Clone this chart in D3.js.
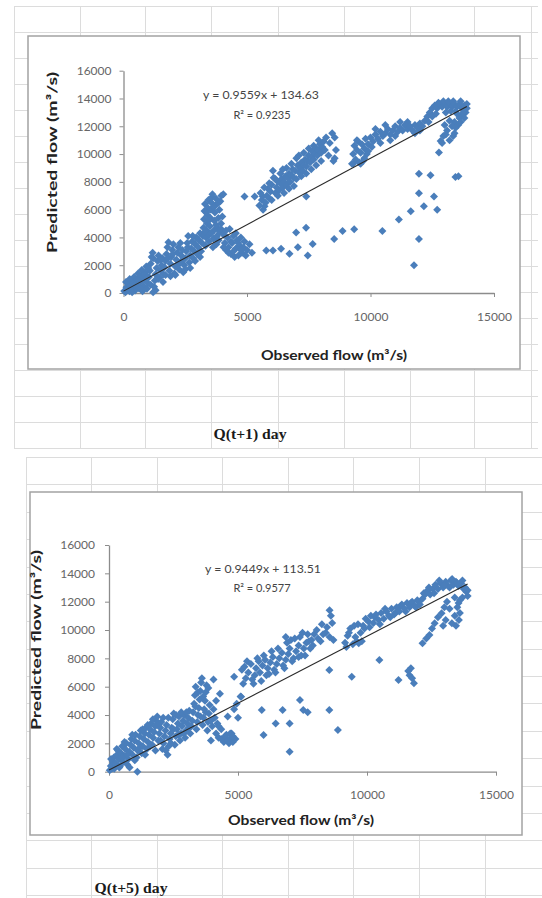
<!DOCTYPE html>
<html>
<head>
<meta charset="utf-8">
<script src="https://cdn.jsdelivr.net/npm/d3@7"></script>
<style>
body { margin: 0; background: #fff; }
svg { display: block; }
</style>
</head>
<body>
<svg id="page" width="542" height="898"></svg>
<script>

// observed vs predicted flow (m3/s)
var day1Points = [
  [30,150],[80,60],[120,420],[160,250],[200,650],[240,120],[280,520],[320,900],[360,300],[400,700],
  [430,1150],[470,180],[510,560],[550,950],[590,1400],[620,350],[660,780],[700,1200],[740,1650],[770,120],
  [800,500],[840,950],[880,1450],[920,1900],[950,300],[990,700],[1030,1150],[1070,1600],[1100,2100],[1140,2600],
  [1180,2900],[1200,50],[1240,450],[1270,900],[1300,1350],[1340,1800],[1380,2300],[1420,2700],[1460,1100],[1500,1600],
  [1540,2000],[1580,2500],[1620,1350],[1660,1850],[1700,2300],[1740,2800],[1780,3300],[1820,3650],[1860,1600],[1900,2100],
  [1940,2600],[1980,3100],[2020,3500],[2060,1400],[2100,1900],[2140,2400],[2180,2900],[2220,3300],[2260,1700],[2300,2200],
  [2340,2700],[2380,3100],[2420,1500],[2460,2000],[2500,2500],[2540,3000],[2580,3600],[2620,4100],[2660,2200],[2700,2700],
  [2740,3200],[2780,3700],[2820,2500],[2860,3000],[2900,3500],[2940,4000],[2980,2800],[3020,3300],[3060,3800],[3100,4300],
  [3140,3000],[3180,3600],[3220,4100],[3240,4700],[3260,5300],[3280,5900],[3300,6400],[3320,3400],[3340,4000],[3360,4500],
  [3380,5000],[3400,5600],[3420,6100],[3440,6700],[3460,3700],[3480,4200],[3500,4800],[3520,5400],[3540,6000],[3560,6500],
  [3580,6900],[3600,7100],[3620,3300],[3640,3900],[3660,4500],[3680,5200],[3700,5800],[3720,6300],[3740,6800],[3760,3500],
  [3780,4100],[3800,4700],[3840,5400],[3880,6000],[3920,6600],[3960,7000],[4040,7100],[3850,3800],[3900,4400],[3950,5000],
  [4000,5500],[4050,4200],[4100,3600],[4150,3100],[4200,4000],[4250,3300],[4300,4600],[4350,2800],[4400,3600],[4450,4100],
  [4500,2600],[4550,3200],[4600,3800],[4650,2700],[4700,3400],[4750,4000],[4800,2900],[4850,3300],[4900,3700],[4950,2700],
  [5000,3100],[5100,3500],[5200,2900],[4900,6950],[5310,6950],[5640,6950],[5710,6240],
  [100,800],[250,1000],[350,50],[450,600],[600,900],[700,300],[850,1300],[950,1100],[1000,1800],[1100,600],
  [1200,2500],[1300,200],[1400,1000],[1500,2400],[1600,800],[1700,1300],[1800,2500],[1900,1200],[2000,2800],[2100,1300],
  [2200,2000],[2300,3600],[2400,2400],[2500,1700],[2600,3300],[2700,1800],[2800,4100],[2900,2300],[3000,3900],[3100,2600],
  [3300,4400],[3350,5800],[3450,5200],[3550,4300],[3650,6200],[3750,4900],[3850,6500],[3950,4600],[4050,3300],[4150,4500],
  [4250,2900],[4350,3700],[4450,3000],[4550,4300],[4650,3600],[4750,3100],
  [5500,6300],[5600,6700],[5650,6000],[5750,6500],[5800,7000],[5850,7500],[5900,6800],[5950,7300],[6000,7800],[6050,8800],
  [6080,8300],[6150,7200],[6200,7600],[6250,8000],[6300,7400],[6350,7900],[6400,8200],[6450,7600],[6500,8000],[6550,8400],
  [6600,7800],[6650,8300],[6700,8600],[6750,8000],[6800,8500],[6850,8900],[6900,8300],[6950,8800],[7000,9700],[7050,9200],
  [7100,8700],[7150,9000],[7200,9400],[7250,8800],[7300,9200],[7350,9600],[7400,9100],[7450,9500],[7500,9900],[7550,9400],
  [7600,9800],[7650,10200],[7700,9600],[7750,10000],[7800,10400],[7850,9900],[7900,10300],[7950,10700],[8000,10100],[8050,10500],
  [8100,10900],[8150,10300],[8450,11500],[8550,11200],[8500,9500],[8550,9700],[7400,6950],
  [5550,7200],[5700,7600],[5900,7900],[6000,6700],[6150,8200],[6250,7000],[6350,8600],[6450,8900],[6500,7200],[6600,9000],
  [6700,7500],[6800,9300],[6900,7700],[7000,8200],[7100,9900],[7200,8400],[7300,10100],[7400,8600],[7500,10400],[7600,8900],
  [7700,10600],[7800,9200],[7900,11000],[8000,9500],[8200,11200],[8300,9900],[8350,10800],[8600,10300],
  [9250,9300],[9300,10000],[9350,10600],[9400,9600],[9450,10300],[9500,10900],[9550,9400],[9600,10100],[9650,10700],[9700,9500],
  [9750,10400],[9800,11100],[9850,10000],[9900,10700],
  [9300,9300],[9450,11000],[9600,9300],[9750,9700],[9900,10200],[10050,10500],[10200,11800],[10400,10800],[10600,12100],[10800,11000],
  [11000,11300],[11200,12300],[11500,12300],[11800,11500],[12000,11700],
  [10000,11200],[10100,10900],[10200,11400],[10300,11100],[10400,11600],[10500,11300],[10600,11500],[10700,11800],[10800,11400],[10900,11700],
  [11000,12000],[11100,11600],[11200,11900],[11300,11700],[11400,12100],[11500,11800],[11600,12000],[11700,11700],[11800,12100],[11900,11900],
  [12000,12200],[12100,12000],[12200,12400],
  [12300,12700],[12400,13000],[12500,13300],[12600,13500],[12700,13300],[12800,13600],[12900,13400],[13000,13600],[13100,13400],[13200,13600],
  [13300,13400],[13400,13600],[13500,13400],[13600,13600],[13700,13300],[13800,13500],[13900,13300],[13850,13000],[13700,12800],[13600,12600],
  [13500,12900],[13400,12300],[13300,12000],[13200,12400],[13100,11700],[13000,12100],[12950,11300],[12900,10800],[12770,10120],[12840,10940],
  [13400,11500],[13550,12100],
  [12350,12300],[12500,12700],[12650,12900],[12750,13700],[12950,13800],[13050,13000],[13150,13800],[13250,13100],[13350,13800],[13450,13100],
  [13650,13800],[13750,13000],[13900,13600],[13800,12600],[13650,12300],[13450,11900],[13350,11300],[13200,11000],[13050,11400],
  [5780,3060],[6050,3060],[6380,3180],[6720,2820],[6990,4350],[7060,3290],[7390,4700],[7460,2700],[7660,3530],[8530,3880],
  [8870,4470],[9340,4590],[10480,4470],[11150,5290],[11630,5880],[11760,2000],[11960,3880],[11960,7180],[11960,8590],[12160,6240],
  [12430,8470],[12570,6940],[12700,6000],[13440,8350],[13560,8400]
];

var day5Points = [
  [30,100],[70,400],[110,200],[150,700],[190,1000],[230,300],[270,600],[310,1200],[350,1500],[390,900],
  [430,400],[470,1300],[510,1800],[550,700],[590,1100],[630,1600],[670,2000],[710,500],[750,900],[790,1400],
  [830,1900],[870,2300],[910,1200],[950,1700],[990,2200],[1030,2600],[1070,1000],[1100,0],[1110,1500],[1150,2000],
  [1190,2500],[1230,2900],[1270,1300],[1310,1800],[1350,2300],[1390,2700],[1430,3100],[1470,1600],[1510,2100],[1550,2600],
  [1590,3000],[1630,3400],[1670,1900],[1710,2400],[1750,2800],[1790,3200],[1830,3600],[1870,3900],[1910,2200],[1950,2700],
  [1990,3100],[2030,3500],[2070,1600],[2110,2000],[2150,2500],[2190,2900],[2230,3300],[2270,1200],[2310,1800],[2350,2300],
  [2390,2700],[2430,3100],[2470,3700],[2510,4100],[2550,1900],[2590,2500],[2630,3000],[2670,3400],[2710,3900],[2750,2200],
  [2790,2700],[2830,3200],[2870,3600],[2910,4000],[2950,2400],[2990,2900],[3030,3400],[3070,3800],[3110,4300],[3150,2700],
  [80,900],[200,200],[300,1600],[400,300],[500,1000],[600,2100],[700,1200],[800,300],[900,2600],[1000,800],
  [1200,1700],[1300,3000],[1400,1200],[1500,3300],[1600,1800],[1700,3700],[1800,1500],[1900,3300],[2000,2200],[2100,3800],
  [2200,1500],[2300,3800],[2400,2000],[2500,3000],[2600,4000],[2700,2600],[2800,4200],[2900,2700],[3000,4200],[3100,3100],
  [3190,3200],[3230,3600],[3260,4200],[3300,4800],[3330,5400],[3360,6000],[3390,3000],[3420,3500],[3450,4000],[3480,4500],
  [3510,5100],[3540,5700],[3570,6300],[3600,6600],[3630,3300],[3660,3800],[3690,4400],[3720,5000],[3750,5600],[3780,6100],
  [3810,2900],[3840,3500],[3870,4100],[3900,4700],[3950,2200],[4000,3200],[4050,6500],[4100,3800],[4150,2700],[4200,3400],
  [4250,2400],[4300,5500],[4350,3000],[4450,2100],[4550,2600],[4600,3900],[4650,2000],[4700,2300],[4750,2700],[4800,2100],
  [4850,4400],[4850,6700],[4950,4800],[5000,3800],[4900,2300],
  [3350,4600],[3450,5600],[3550,3900],[3650,5300],[3750,4200],[3850,5900],[3950,3600],[4050,4400],[4150,5000],[4250,3200],
  [4350,2300],[4500,2500],[4600,2200],[4700,2700],[4800,2500],
  [5100,5300],[5150,7200],[5250,7400],[5300,6600],[5400,7000],[5500,7600],[5550,6500],[5650,6800],[5700,7300],[5800,7800],
  [5850,7000],[5950,7500],[6050,7900],[6100,6800],[6150,7300],[6250,7700],[6350,8100],[6400,7200],[6500,7600],[6600,8000],
  [6700,8400],[6750,7500],[6850,7900],[6900,9100],[6950,8300],[7000,8700],[7050,9300],[7150,8000],[7250,8500],[7350,8900],
  [7400,9500],[7450,8200],[7550,8700],[7650,9100],[7700,9700],[7800,8700],[7850,9300],[7950,9700],[8050,10000],[8200,9200],
  [8300,9700],[8450,10200],[8550,11400],[8600,11000],[8550,9500],
  [5200,6200],[5350,7800],[5600,6200],[5750,8000],[5900,6400],[6000,8200],[6200,6900],[6300,8500],[6450,7000],[6550,8700],
  [6800,7300],[6850,9500],[7100,7800],[7200,9400],[7350,8100],[7500,9800],[7600,8200],[7750,9200],[7900,8900],[8100,9400],
  [8250,10400],[8400,9800],[8650,10500],[8700,9300],
  [5120,5290],[5920,4350],[5990,2590],[6460,3410],[6730,4350],[7000,3410],[7000,1410],[7400,5060],[7530,4350],[7700,4200],
  [8540,7180],[8540,4350],[8870,2940],[9410,6710],[10480,7880],[11220,6470],[11650,6800],[11700,7300],[11750,6600],[11820,6250],
  [11600,7100],
  [9150,9100],[9250,9600],[9350,10100],[9450,9000],[9550,9500],[9650,10400],[9680,9060],[9750,9800],[9850,10300],[9950,10800],
  [9200,8800],[9300,9800],[9500,10300],[9600,9200],[9800,9200],[9900,10100],[10100,10200],[10300,10900],[10500,10400],[10700,11500],
  [10900,10900],[11100,11200],[11300,11700],[11500,11300],[11700,11900],[11900,11600],[12000,12000],
  [10050,10600],[10150,11000],[10250,10500],[10350,11100],[10450,10700],[10550,11200],[10650,10800],[10750,11300],[10850,11000],[10950,11500],
  [11050,11100],[11150,11600],[11250,11300],[11350,11800],[11450,11500],[11550,11900],[11650,11600],[11750,12000],[11850,11700],[11950,12100],
  [12050,11800],
  [12150,12200],[12250,12500],[12350,12800],[12450,12500],[12550,12900],[12650,13200],[12750,12900],[12850,13300],[12950,13000],[13050,13400],
  [13150,13100],[13250,13500],[13350,13200],[13450,13400],[13550,13100],[13650,13300],[13750,12900],[13850,12700],[13900,12400],
  [12200,12600],[12400,13000],[12600,12600],[12800,13500],[13000,13200],[13200,13000],[13300,13600],[13500,13300],[13700,13500],[13800,13000],
  [13900,12800],[13700,12300],[13550,11900],[13400,12300],[13200,11500],[13050,10700],[12950,10300],[13450,10300],[13600,11200],
  [12150,9060],[12300,9400],[12420,9650],[12520,10100],[12620,10470],[12750,10900],[12890,11180],[13000,11600],[13100,12000],[13290,10470],
  [13400,11000],[13560,10700],[13500,11600],[13600,12100]
];

var slopes = [0.9559, 0.9449];
var intercepts = [134.63, 113.51];
var rSquared = ["0.9235", "0.9577"];
var captions = ["Q(t+1) day", "Q(t+5) day"];
var xTicks = [0, 5000, 10000, 15000];
var yTicks = [0, 2000, 4000, 6000, 8000, 10000, 12000, 14000, 16000];
var xMaxFit = 13900;

var svg = d3.select("#page");
svg.append("rect").attr("width", 542).attr("height", 898).attr("fill", "#fff");

// spreadsheet cells behind the pasted charts
var grid = svg.append("g")
    .attr("stroke", "#dcdcdc")
    .attr("stroke-width", 1)
    .attr("shape-rendering", "crispEdges");

var topCols = [14, 80, 145, 211, 278, 344, 410, 474, 531];
var topRows = [6, 32, 58, 84, 110, 136, 162, 188, 214, 240, 266, 292, 318, 344, 370, 396, 422, 448];
var botCols = [26, 91, 157, 222, 288, 353, 419, 485];
var botRows = [457, 484, 512, 539, 567, 594, 621, 649, 676, 703, 731, 758, 786, 813, 840, 868, 895];

topRows.forEach(function(r){ grid.append("line").attr("x1", 14).attr("x2", 538).attr("y1", r).attr("y2", r); });
topCols.forEach(function(c){ grid.append("line").attr("x1", c).attr("x2", c).attr("y1", 6).attr("y2", 448); });
botRows.forEach(function(r){ grid.append("line").attr("x1", 26).attr("x2", 542).attr("y1", r).attr("y2", r); });
botCols.forEach(function(c){ grid.append("line").attr("x1", c).attr("x2", c).attr("y1", 457).attr("y2", 898); });

var panels = [
  {points: day1Points, box: [28, 36, 520, 369], xr: [123.5, 494], yr: [293, 70.7],
   xPad: 15, yPad: 8, xTitle: [334, 355, 146], yTitle: [52, 162.5, 181],
   eq: [261, 95], r2: [262, 115], cap: [250, 434]},
  {points: day5Points, box: [30, 492, 522, 835], xr: [109, 496], yr: [771.7, 545],
   xPad: 15, yPad: 10, xTitle: [301, 820, 146], yTitle: [36, 640, 180],
   eq: [263, 569], r2: [262, 588], cap: [131, 888]}
];

panels.forEach(function(p, i){
  var g = svg.append("g");

  g.append("rect")
      .attr("x", p.box[0]).attr("y", p.box[1])
      .attr("width", p.box[2] - p.box[0]).attr("height", p.box[3] - p.box[1])
      .attr("fill", "#fff").attr("stroke", "#a3a3a3").attr("stroke-width", 1.5);

  var x = d3.scaleLinear().domain([0, 15000]).range(p.xr);
  var y = d3.scaleLinear().domain([0, 16000]).range(p.yr);

  var xAxis = g.append("g")
      .attr("transform", "translate(0," + p.yr[0] + ")")
      .call(d3.axisBottom(x).tickValues(xTicks).tickFormat(d3.format("d"))
        .tickSizeInner(4).tickSizeOuter(0).tickPadding(p.xPad));
  var yAxis = g.append("g")
      .attr("transform", "translate(" + p.xr[0] + ",0)")
      .call(d3.axisLeft(y).tickValues(yTicks).tickFormat(d3.format("d"))
        .tickSizeInner(4).tickSizeOuter(0).tickPadding(p.yPad));

  [xAxis, yAxis].forEach(function(a){
    a.select(".domain").attr("stroke", "#8c8c8c").attr("stroke-width", 1.3);
    a.selectAll(".tick line").attr("stroke", "#8c8c8c");
    a.selectAll(".tick text").attr("fill", "#666").style("font-family", "Lato, 'Open Sans', sans-serif").style("font-size", "12px");
  });

  // markers
  g.append("g").selectAll("path")
      .data(p.points)
    .enter().append("path")
      .attr("d", d3.symbol(d3.symbolSquare, 32))
      .attr("transform", function(d){ return "translate(" + x(d[0]) + "," + y(d[1]) + ") rotate(45)"; })
      .attr("fill", "#4a7ebb");

  // linear trendline
  g.append("line")
      .attr("x1", x(0)).attr("y1", y(intercepts[i]))
      .attr("x2", x(xMaxFit)).attr("y2", y(slopes[i] * xMaxFit + intercepts[i]))
      .attr("stroke", "#2a2a2a").attr("stroke-width", 1.1);

  g.append("text")
      .attr("x", p.eq[0]).attr("y", p.eq[1]).attr("dy", "0.35em")
      .attr("text-anchor", "middle")
      .attr("textLength", 116).attr("lengthAdjust", "spacingAndGlyphs")
      .style("font-family", "Lato, sans-serif").style("font-size", "11px").attr("fill", "#444")
      .text("y = " + slopes[i] + "x + " + intercepts[i]);
  g.append("text")
      .attr("x", p.r2[0]).attr("y", p.r2[1]).attr("dy", "0.35em")
      .attr("text-anchor", "middle")
      .style("font-family", "Lato, sans-serif").style("font-size", "11px").attr("fill", "#444")
      .text("R² = " + rSquared[i]);

  g.append("text")
      .attr("x", p.xTitle[0]).attr("y", p.xTitle[1]).attr("dy", "0.35em")
      .attr("text-anchor", "middle")
      .attr("textLength", p.xTitle[2]).attr("lengthAdjust", "spacingAndGlyphs")
      .style("font-family", "Lato, sans-serif").style("font-size", "13px").style("font-weight", "bold").attr("fill", "#222")
      .text("Observed flow (m³/s)");
  g.append("text")
      .attr("transform", "translate(" + p.yTitle[0] + "," + p.yTitle[1] + ") rotate(-90)")
      .attr("dy", "0.35em")
      .attr("text-anchor", "middle")
      .attr("textLength", p.yTitle[2]).attr("lengthAdjust", "spacingAndGlyphs")
      .style("font-family", "Lato, sans-serif").style("font-size", "13px").style("font-weight", "bold").attr("fill", "#222")
      .text("Predicted flow (m³/s)");

  svg.append("text")
      .attr("x", p.cap[0]).attr("y", p.cap[1]).attr("dy", "0.35em")
      .attr("text-anchor", "middle")
      .attr("textLength", 73).attr("lengthAdjust", "spacingAndGlyphs")
      .style("font-family", "'Liberation Serif', 'DejaVu Serif', serif").style("font-size", "15px").style("font-weight", "bold")
      .attr("fill", "#1a1a1a")
      .text(captions[i]);
});

</script>
</body>
</html>
